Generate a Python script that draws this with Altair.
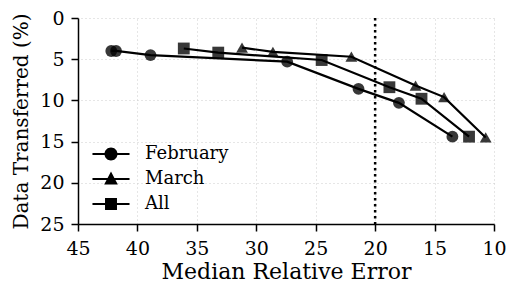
import altair as alt
import pandas as pd

series_names = ["February", "March", "All"]

feb_err = [42.2, 41.8, 38.9, 27.4, 21.4, 18.0, 13.5]
feb_pct = [4.0, 4.0, 4.5, 5.3, 8.6, 10.3, 14.4]

mar_err = [31.2, 28.6, 22.0, 16.6, 14.2, 10.7]
mar_pct = [3.6, 4.1, 4.7, 8.2, 9.6, 14.5]

all_err = [36.1, 33.2, 24.5, 18.8, 16.1, 12.1]
all_pct = [3.7, 4.2, 5.1, 8.4, 9.8, 14.4]

x_ticks = [45, 40, 35, 30, 25, 20, 15, 10]
y_ticks = [0, 5, 10, 15, 20, 25]
threshold = [20]

rows = []
for name, xs, ys in [("February", feb_err, feb_pct), ("March", mar_err, mar_pct), ("All", all_err, all_pct)]:
    for i, (xv, yv) in enumerate(zip(xs, ys)):
        rows.append({"series": name, "err": xv, "pct": yv, "idx": i})
df = pd.DataFrame(rows)
thr_df = pd.DataFrame({"x": threshold})

FONT = "DejaVu Serif"

x_enc = alt.X("err:Q", scale=alt.Scale(domain=[10, 45], reverse=True, nice=False),
              axis=alt.Axis(values=x_ticks, title="Median Relative Error", titleFontSize=22))
y_enc = alt.Y("pct:Q", scale=alt.Scale(domain=[0, 25], reverse=True, nice=False),
              axis=alt.Axis(values=y_ticks, title="Data Transferred (%)", titleFontSize=20))

base = alt.Chart(df)

lines = base.mark_line(color="black", strokeWidth=2.2).encode(
    x=x_enc, y=y_enc, detail="series:N", order="idx:Q"
)

points = base.mark_point(filled=True, color="black", opacity=0.78, size=140).encode(
    x=x_enc, y=y_enc,
    shape=alt.Shape("series:N", scale=alt.Scale(domain=series_names,
                                                range=["circle", "triangle-up", "square"]),
                    legend=None),
)

rule = alt.Chart(thr_df).mark_rule(color="black", strokeWidth=2.5, strokeDash=[2.5, 3.5]).encode(
    x=alt.X("x:Q", scale=alt.Scale(domain=[10, 45], reverse=True, nice=False))
)

# legend glyphs: a short line with the marker on it (size 169 -> unit = 6.5 px)
LINE = "M-2.85,-0.16L2.85,-0.16L2.85,0.16L-2.85,0.16Z"
legend_paths = [
    LINE + "M1,0A1,1,0,1,1,-1,0A1,1,0,1,1,1,0Z",
    LINE + "M0,-1.15L1.05,0.85L-1.05,0.85Z",
    LINE + "M-0.92,-0.92L0.92,-0.92L0.92,0.92L-0.92,0.92Z",
]

legend_layer = base.transform_filter("false").mark_point(
    filled=True, fill="black", size=169
).encode(
    shape=alt.Shape("series:N",
                    scale=alt.Scale(domain=series_names, range=legend_paths),
                    legend=alt.Legend(title=None, orient="none", legendX=24, legendY=127,
                                      symbolSize=169, symbolStrokeWidth=0,
                                      symbolFillColor="black", symbolStrokeColor="black",
                                      symbolOpacity=1, labelFontSize=18, labelFont=FONT,
                                      labelColor="black", labelOffset=25, rowPadding=7,
                                      padding=0))
)

chart = alt.layer(rule, lines, points, legend_layer).resolve_scale(
    shape="independent"
).properties(
    width=416, height=206,
    autosize=alt.AutoSizeParams(type="none"),
    padding={"left": 70, "top": 10, "right": 12, "bottom": 59},
).configure(font=FONT).configure_view(stroke=None).configure_axis(
    labelFont=FONT, titleFont=FONT, labelFontSize=19,
    titleFontWeight="normal", labelColor="black", titleColor="black",
    domainColor="black", domainWidth=1.5, tickColor="black", tickWidth=1.5, tickSize=7,
    gridColor="#cccccc", gridDash=[1, 3], gridWidth=1,
    labelFlush=False, labelOverlap=False,
).configure_axisX(labelPadding=8, titlePadding=3).configure_axisY(labelPadding=7, titlePadding=8)

chart.save("out.html", embed_options={"renderer": "svg", "actions": False})
